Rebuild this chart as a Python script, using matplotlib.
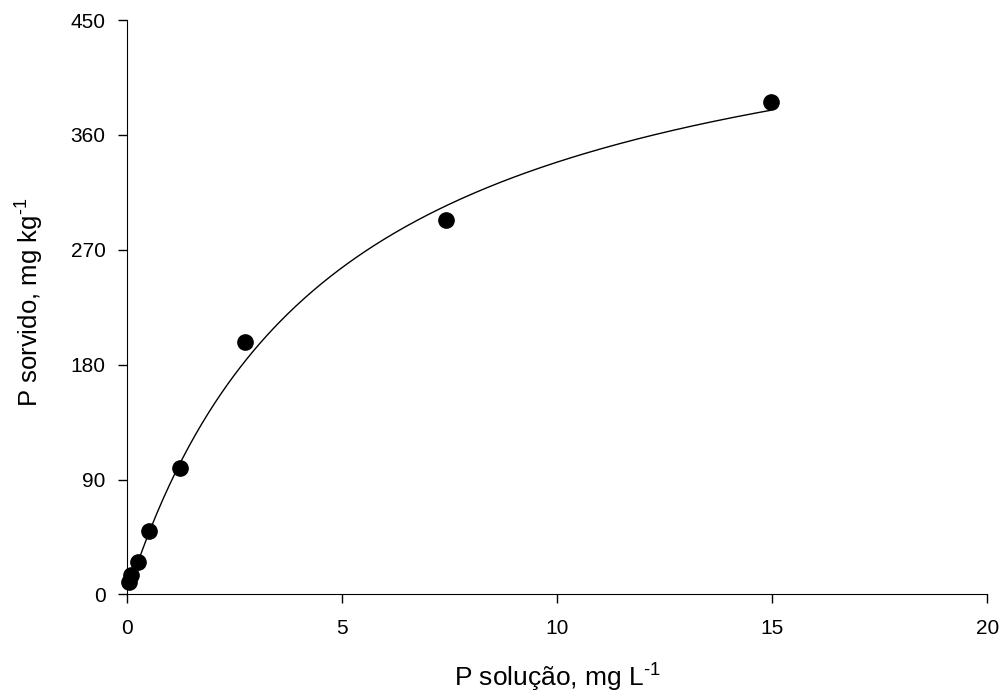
import numpy as np
import matplotlib
matplotlib.use('Agg')
import matplotlib.pyplot as plt

plt.rcParams['font.family'] = ['Liberation Sans', 'DejaVu Sans']
plt.rcParams['mathtext.fontset'] = 'custom'
plt.rcParams['mathtext.rm'] = 'Liberation Sans'
plt.rcParams['mathtext.default'] = 'regular'

# P na solução de equilíbrio (mg/L) e P sorvido (mg/kg)
p_solucao = [0.04, 0.09, 0.25, 0.50, 1.24, 2.74, 7.42, 14.96]
p_sorvido = [9.9, 15.1, 25.1, 49.8, 98.7, 197.8, 293.0, 385.6]

# parâmetros de Langmuir ajustados
cmax = 500.0
k_l = 0.21

xticks = [0, 5, 10, 15, 20]
yticks = [0, 90, 180, 270, 360, 450]

fig = plt.figure(figsize=(10.05, 6.98), dpi=100)
ax = fig.add_axes([0.1264, 0.1483, 0.856, 0.823])

# curva de Langmuir
xc = np.linspace(min(p_solucao), max(p_solucao), 300)
yc = cmax * k_l * xc / (1 + k_l * xc)
ax.plot(xc, yc, color='black', lw=1.0)
ax.plot(p_solucao, p_sorvido, 'o', color='black', ms=11, clip_on=False, zorder=3)

ax.set_xlim(0, 20)
ax.set_ylim(0, 450)
ax.set_xticks(xticks)
ax.set_yticks(yticks)
ax.spines['top'].set_visible(False)
ax.spines['right'].set_visible(False)
ax.tick_params(direction='out', length=6.5, width=1, labelsize=15)
ax.tick_params(axis='x', pad=11)
ax.tick_params(axis='y', pad=9)

ax.set_xlabel('P solução, mg L$^{\\text{-}1}$', fontsize=19, labelpad=17.5)
ax.set_ylabel('P sorvido, mg kg$^{\\text{-}1}$', fontsize=18.5, labelpad=17)
ax.yaxis.set_label_coords(-0.094, 0.508)

fig.savefig('out.png', dpi=100)
